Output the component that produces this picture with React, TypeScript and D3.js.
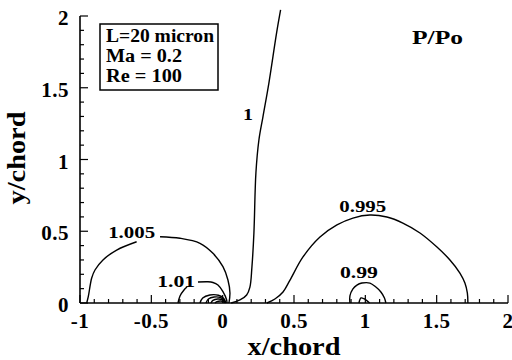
import React, { useEffect, useRef } from 'react';
import * as d3 from 'd3';

type Pt = [number, number];

// axis ticks
const xTicks = [-1, -0.5, 0, 0.5, 1, 1.5, 2];
const yTicks = [0, 0.5, 1, 1.5, 2];
const xTickLabels = ['-1', '-0.5', '0', '0.5', '1', '1.5', '2'];
const yTickLabels = ['0', '0.5', '1', '1.5', '2'];

// contour lines of P/Po (x/chord, y/chord)
const contour1: Pt[] = [
  [0.06, 0], [0.121, 0.021], [0.168, 0.056], [0.191, 0.111], [0.205, 0.25],
  [0.219, 0.488], [0.233, 0.906], [0.254, 1.136], [0.282, 1.296], [0.324, 1.533],
  [0.378, 1.882], [0.406, 2.042],
];
const contour1005Left: Pt[] = [
  [-0.953, 0], [-0.942, 0.044], [-0.918, 0.174], [-0.895, 0.23], [-0.839, 0.3],
  [-0.743, 0.369], [-0.603, 0.427],
];
const contour1005Right: Pt[] = [
  [-0.439, 0.462], [-0.299, 0.451], [-0.159, 0.416], [-0.068, 0.346], [0.002, 0.253],
  [0.037, 0.16], [0.051, 0.07], [0.044, 0],
];
const contour101Left: Pt[] = [
  [-0.313, 0], [-0.299, 0.049], [-0.271, 0.091], [-0.25, 0.111],
];
const contour101Right: Pt[] = [
  [-0.173, 0.146], [-0.103, 0.148], [-0.068, 0.143], [-0.033, 0.125], [0.002, 0.079],
  [0.028, 0.021], [0.03, 0],
];
const contourInnerA: Pt[] = [[-0.159, 0], [-0.14, 0.035], [-0.09, 0.056], [-0.03, 0.054], [0.008, 0.032], [0.023, 0]];
const contourInnerB: Pt[] = [[-0.117, 0], [-0.1, 0.028], [-0.06, 0.042], [-0.015, 0.038], [0.01, 0.02], [0.02, 0]];
const contourInnerC: Pt[] = [[-0.082, 0], [-0.068, 0.018], [-0.035, 0.028], [-0.005, 0.024], [0.012, 0.012], [0.016, 0]];
const contourInnerD: Pt[] = [[-0.054, 0], [-0.04, 0.01], [-0.015, 0.014], [0.005, 0.01], [0.013, 0]];
const contour0995: Pt[] = [
  [0.31, 0], [0.366, 0.028], [0.423, 0.077], [0.472, 0.16], [0.563, 0.321],
  [0.682, 0.46], [0.801, 0.544], [0.913, 0.592], [1.032, 0.613], [1.151, 0.599],
  [1.263, 0.557], [1.383, 0.488], [1.502, 0.39], [1.593, 0.3], [1.663, 0.209],
  [1.698, 0.139], [1.715, 0.07], [1.719, 0],
];
const contour099: Pt[] = [
  [0.892, 0], [0.892, 0.049], [0.913, 0.098], [0.941, 0.125], [0.976, 0.139],
  [1.032, 0.139], [1.074, 0.111], [1.109, 0.077], [1.134, 0.035], [1.144, 0],
];
const contour0985: Pt[] = [[0.955, 0], [0.97, 0.035], [0.99, 0.03], [1.03, 0]];

const contours = [
  contour1, contour1005Left, contour1005Right, contour101Left, contour101Right,
  contourInnerA, contourInnerB, contourInnerC, contourInnerD,
  contour0995, contour099, contour0985,
];

// contour labels: text and anchor (x/chord, y/chord)
const levelLabels = ['1', '1.005', '1.01', '0.995', '0.99'];
const levelLabelPos: Pt[] = [[0.178, 1.275], [-0.638, 0.455], [-0.326, 0.111], [0.982, 0.634], [0.955, 0.173]];

const infoLines = ['L=20 micron', 'Ma = 0.2', 'Re = 100'];

const App = () => {
  const svgRef = useRef<SVGSVGElement>(null);

  useEffect(() => {
    const width = 512;
    const height = 360;
    const font = '"Liberation Serif", "Times New Roman", serif';

    const svg = d3.select(svgRef.current);
    svg.selectAll('*').remove();
    svg.attr('width', width).attr('height', height);

    const x = d3.scaleLinear().domain([-1, 2]).range([80, 508]);
    const y = d3.scaleLinear().domain([0, 2]).range([303, 16]);

    const g = svg.append('g');

    // contours
    const line = d3.line<Pt>()
      .x(d => x(d[0]))
      .y(d => y(d[1]))
      .curve(d3.curveCatmullRom.alpha(0.5));

    g.selectAll('.contour')
      .data(contours)
      .enter()
      .append('path')
      .attr('class', 'contour')
      .attr('fill', 'none')
      .attr('stroke', '#000')
      .attr('stroke-width', 1.4)
      .attr('d', line);

    // contour labels
    const labelWidths = [10, 47, 38, 47, 38];
    g.selectAll('.level')
      .data(levelLabels)
      .enter()
      .append('text')
      .attr('class', 'level')
      .attr('x', (d, i) => x(levelLabelPos[i][0]))
      .attr('y', (d, i) => y(levelLabelPos[i][1]))
      .attr('text-anchor', 'middle')
      .attr('textLength', (d, i) => labelWidths[i])
      .attr('lengthAdjust', 'spacingAndGlyphs')
      .style('font-family', font)
      .style('font-weight', 'bold')
      .style('font-size', '17px')
      .text(d => d);

    // axes lines
    g.append('line')
      .attr('x1', x(-1)).attr('x2', x(2))
      .attr('y1', y(0)).attr('y2', y(0))
      .attr('stroke', '#000').attr('stroke-width', 1.6);
    g.append('line')
      .attr('x1', x(-1)).attr('x2', x(-1))
      .attr('y1', y(0)).attr('y2', y(2))
      .attr('stroke', '#000').attr('stroke-width', 1.6);

    // ticks (inward), longer at every 0.5
    const isMajor = (d: number) => Math.abs(d * 2 - Math.round(d * 2)) < 1e-6;
    const xMinor = d3.range(-10, 21).map(v => v / 10);
    g.selectAll('.xminor')
      .data(xMinor)
      .enter()
      .append('line')
      .attr('x1', d => x(d)).attr('x2', d => x(d))
      .attr('y1', y(0)).attr('y2', d => y(0) - (isMajor(d) ? 8 : 4))
      .attr('stroke', '#000').attr('stroke-width', 1.2);

    const yMinor = d3.range(0, 21).map(v => v / 10);
    g.selectAll('.yminor')
      .data(yMinor)
      .enter()
      .append('line')
      .attr('y1', d => y(d)).attr('y2', d => y(d))
      .attr('x1', x(-1)).attr('x2', d => x(-1) + (isMajor(d) ? 8 : 4))
      .attr('stroke', '#000').attr('stroke-width', 1.2);

    // tick labels
    g.selectAll('.xlab')
      .data(xTicks)
      .enter()
      .append('text')
      .attr('x', d => x(d))
      .attr('y', 328)
      .attr('text-anchor', 'middle')
      .style('font-family', font)
      .style('font-weight', 'bold')
      .style('font-size', '21px')
      .style('letter-spacing', '0.5px')
      .text((d, i) => xTickLabels[i]);

    g.selectAll('.ylab')
      .data(yTicks)
      .enter()
      .append('text')
      .attr('x', 69)
      .attr('y', d => y(d) + 9)
      .attr('text-anchor', 'end')
      .style('font-family', font)
      .style('font-weight', 'bold')
      .style('font-size', '21px')
      .style('letter-spacing', '0.5px')
      .text((d, i) => yTickLabels[i]);

    // axis titles
    g.append('text')
      .attr('x', 294)
      .attr('y', 355)
      .attr('text-anchor', 'middle')
      .attr('textLength', 93)
      .attr('lengthAdjust', 'spacingAndGlyphs')
      .style('font-family', font)
      .style('font-weight', 'bold')
      .style('font-size', '26px')
      .text('x/chord');

    g.append('text')
      .attr('transform', 'translate(25,158) rotate(-90)')
      .attr('text-anchor', 'middle')
      .attr('textLength', 93)
      .attr('lengthAdjust', 'spacingAndGlyphs')
      .style('font-family', font)
      .style('font-weight', 'bold')
      .style('font-size', '26px')
      .text('y/chord');

    // info box
    g.append('rect')
      .attr('x', 100).attr('y', 24)
      .attr('width', 118).attr('height', 66)
      .attr('fill', '#fff')
      .attr('stroke', '#000')
      .attr('stroke-width', 1.5);

    const infoWidths = [108, 76, 76];
    g.selectAll('.info')
      .data(infoLines)
      .enter()
      .append('text')
      .attr('x', 106)
      .attr('y', (d, i) => 42 + i * 20)
      .attr('textLength', (d, i) => infoWidths[i])
      .attr('lengthAdjust', 'spacingAndGlyphs')
      .style('font-family', font)
      .style('font-weight', 'bold')
      .style('font-size', '18px')
      .text(d => d);

    g.append('text')
      .attr('x', 412)
      .attr('y', 44)
      .attr('textLength', 51)
      .attr('lengthAdjust', 'spacingAndGlyphs')
      .style('font-family', font)
      .style('font-weight', 'bold')
      .style('font-size', '18px')
      .text('P/Po');
  }, []);

  return (
    <div style={{ position: 'absolute', left: 0, top: 0, width: 512, height: 360, background: '#fff' }}>
      <svg ref={svgRef} style={{ display: 'block' }}></svg>
    </div>
  );
};

export default App;
